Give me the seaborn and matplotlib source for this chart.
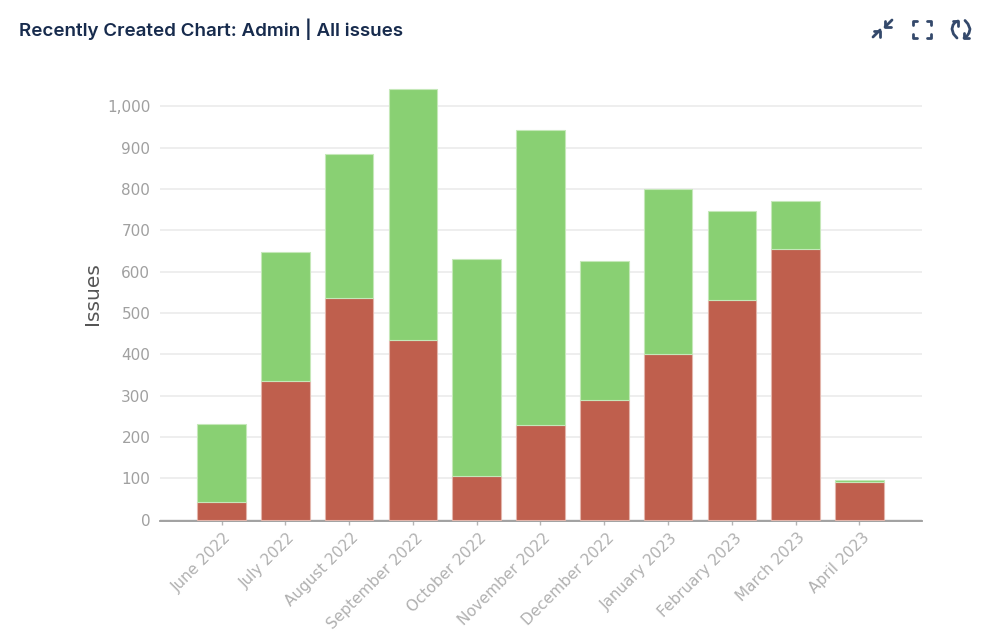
import matplotlib
matplotlib.use("Agg")
import matplotlib.pyplot as plt
import pandas as pd
import seaborn as sns
from matplotlib.lines import Line2D
from matplotlib.ticker import FuncFormatter, MultipleLocator
from matplotlib.transforms import ScaledTranslation

months = ["June 2022", "July 2022", "August 2022", "September 2022", "October 2022",
          "November 2022", "December 2022", "January 2023", "February 2023",
          "March 2023", "April 2023"]
red_values = [42, 335, 537, 436, 106, 228, 290, 400, 531, 654, 90]
green_values = [190, 313, 347, 606, 526, 715, 336, 400, 217, 118, 5]

W, H = 999, 638


def px_line(fig, xs, ys, color="#34496b", lw=2.0):
    # icon strokes, given in image pixels
    fig.add_artist(Line2D([x / W for x in xs], [1 - y / H for y in ys], color=color, lw=lw,
                          solid_capstyle="round", solid_joinstyle="round"))


def draw_icons(fig):
    # collapse arrows
    px_line(fig, [873, 880], [37, 30])
    px_line(fig, [874, 880, 880], [31, 31, 37])
    px_line(fig, [885, 892], [27, 20])
    px_line(fig, [885, 885, 891], [21, 27, 27])
    # fullscreen corners
    px_line(fig, [913, 913, 917], [25, 21, 21])
    px_line(fig, [927, 931, 931], [21, 21, 25])
    px_line(fig, [913, 913, 917], [34, 38, 38])
    px_line(fig, [927, 931, 931], [38, 38, 34])
    # refresh arrows
    px_line(fig, [957, 953.5, 952, 953, 955, 958], [38, 34, 29, 25, 22.5, 21])
    px_line(fig, [953, 958, 958], [21, 21, 26])
    px_line(fig, [965, 968, 970, 969, 967, 964], [20.5, 24, 29, 33, 36, 38])
    px_line(fig, [969, 964, 964], [38, 38, 33])


sns.set_theme(style="white")
plt.rcParams["font.family"] = ["DejaVu Sans"]
df = pd.DataFrame({"month": months, "red": red_values, "green": green_values})

fig = plt.figure(figsize=(W / 100, H / 100), dpi=100)
ax = fig.add_axes([160 / W, 1 - 520.5 / H, (922 - 160) / W, (520.5 - 80) / H])

sns.barplot(data=df, x="month", y="red", color="#bf5f4d", saturation=1, width=0.76,
            edgecolor="#e3b5ab", linewidth=0.8, ax=ax, zorder=3)
sns.barplot(data=df, x="month", y="green", bottom=df["red"], color="#89d073", saturation=1,
            width=0.76, edgecolor="#c5e8b9", linewidth=0.8, ax=ax, zorder=3)

ax.set_xlim(-0.964, 10.98)
ax.set_ylim(-2, 1064)
ax.yaxis.set_major_locator(MultipleLocator(100))
ax.yaxis.set_major_formatter(FuncFormatter(lambda v, _: f"{int(v):,}"))
ax.grid(axis="y", color="#e9e9e9", lw=1.1, zorder=0)
ax.set_axisbelow(True)

for side in ["top", "left", "right"]:
    ax.spines[side].set_visible(False)
ax.spines["bottom"].set_color("#9a9a9a")
ax.spines["bottom"].set_linewidth(1.3)

ax.tick_params(axis="y", length=0, pad=7, labelsize=11, labelcolor="#a0a0a0")
ax.tick_params(axis="x", bottom=True, length=3, width=1, color="#b5b5b5", pad=4,
               labelsize=11, labelcolor="#b0b0b0")
plt.setp(ax.get_xticklabels(), rotation=45, ha="right", rotation_mode="anchor")
shift = ScaledTranslation(2 / 100, 0, fig.dpi_scale_trans)
for label in ax.get_xticklabels():
    label.set_transform(label.get_transform() + shift)

ax.set_xlabel("")
ax.set_ylabel("")
fig.text(92 / W, 1 - 293.5 / H, "Issues", rotation=90, ha="center", va="center",
         fontsize=14.5, color="#555555")
fig.text(19 / W, 1 - 29.5 / H, "Recently Created Chart: Admin | All issues", family="Inter",
         fontsize=13.5, fontweight="semibold", color="#172b4d", ha="left", va="center")

draw_icons(fig)

fig.savefig("out.png", dpi=100, facecolor="white")
